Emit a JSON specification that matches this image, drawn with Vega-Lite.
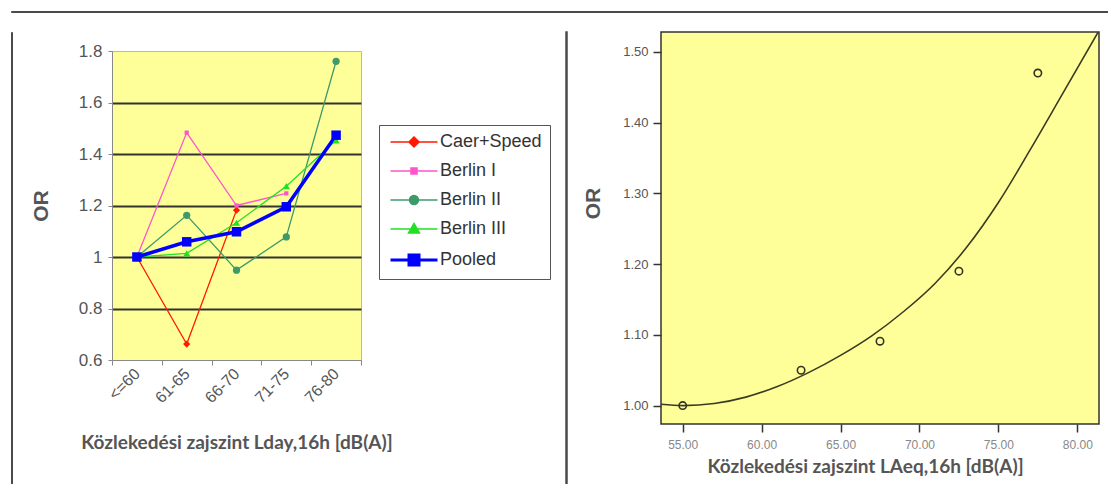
{
  "$schema": "https://vega.github.io/schema/vega-lite/v6.json",
  "background": "white",
  "padding": {"left": 10, "top": 10, "right": 0, "bottom": 0},
  "spacing": 17,
  "datasets": {
    "left": [
      {"band": "<=60", "series": "Caer+Speed", "or": 1.0},
      {"band": "61-65", "series": "Caer+Speed", "or": 0.662},
      {"band": "66-70", "series": "Caer+Speed", "or": 1.182},
      {"band": "<=60", "series": "Berlin I", "or": 1.0},
      {"band": "61-65", "series": "Berlin I", "or": 1.483},
      {"band": "66-70", "series": "Berlin I", "or": 1.2},
      {"band": "71-75", "series": "Berlin I", "or": 1.247},
      {"band": "<=60", "series": "Berlin II", "or": 1.0},
      {"band": "61-65", "series": "Berlin II", "or": 1.162},
      {"band": "66-70", "series": "Berlin II", "or": 0.949},
      {"band": "71-75", "series": "Berlin II", "or": 1.078},
      {"band": "76-80", "series": "Berlin II", "or": 1.76},
      {"band": "<=60", "series": "Berlin III", "or": 1.0},
      {"band": "61-65", "series": "Berlin III", "or": 1.014},
      {"band": "66-70", "series": "Berlin III", "or": 1.133},
      {"band": "71-75", "series": "Berlin III", "or": 1.275},
      {"band": "76-80", "series": "Berlin III", "or": 1.453},
      {"band": "<=60", "series": "Pooled", "or": 1.0},
      {"band": "61-65", "series": "Pooled", "or": 1.059},
      {"band": "66-70", "series": "Pooled", "or": 1.098},
      {"band": "71-75", "series": "Pooled", "or": 1.195},
      {"band": "76-80", "series": "Pooled", "or": 1.473}
    ],
    "pts": [
      {"laeq": 55.0, "or": 1.0},
      {"laeq": 62.5, "or": 1.05},
      {"laeq": 67.5, "or": 1.091},
      {"laeq": 72.5, "or": 1.19},
      {"laeq": 77.5, "or": 1.47}
    ],
    "curve": [
      {"laeq": 53.625, "or": 1.002},
      {"laeq": 55.0, "or": 1.0},
      {"laeq": 57.0, "or": 1.003},
      {"laeq": 59.0, "or": 1.012},
      {"laeq": 61.0, "or": 1.027},
      {"laeq": 63.0, "or": 1.047},
      {"laeq": 65.0, "or": 1.071},
      {"laeq": 67.0, "or": 1.099},
      {"laeq": 69.0, "or": 1.133},
      {"laeq": 71.0, "or": 1.173},
      {"laeq": 73.0, "or": 1.224},
      {"laeq": 75.0, "or": 1.287},
      {"laeq": 77.0, "or": 1.361},
      {"laeq": 79.0, "or": 1.438},
      {"laeq": 81.375, "or": 1.53}
    ]
  },
  "vconcat": [
    {
      "width": 1097,
      "height": 1,
      "view": {"fill": "#4a4a4a", "stroke": "#4a4a4a", "strokeWidth": 1},
      "data": {"values": [{}]},
      "mark": {"type": "rule", "opacity": 0},
      "encoding": {}
    },
    {
      "spacing": 168,
      "hconcat": [
        {
          "spacing": 16,
          "hconcat": [
            {
              "width": 1,
              "height": 455,
              "view": {"fill": "#4a4a4a", "stroke": "#4a4a4a", "strokeWidth": 1},
              "data": {"values": [{}]},
              "mark": {"type": "rule", "opacity": 0},
              "encoding": {}
            },
            {
              "spacing": 8,
              "vconcat": [
                {
                  "width": 1,
                  "height": 1,
                  "view": {"stroke": null},
                  "data": {"values": [{}]},
                  "mark": {"type": "rule", "opacity": 0},
                  "encoding": {}
                },
                {
                  "width": 249,
                  "height": 309,
                  "view": {"fill": "#ffff99", "stroke": "#b8b8b8", "strokeWidth": 1},
                  "data": {"name": "left"},
                  "encoding": {
                    "x": {
                      "field": "band",
                      "type": "ordinal",
                      "sort": ["<=60", "61-65", "66-70", "71-75", "76-80"],
                      "scale": {"type": "band", "paddingInner": 0, "paddingOuter": 0},
                      "axis": {
                        "tickBand": "extent",
                        "labelAngle": -45,
                        "labelAlign": "right",
                        "labelBaseline": "middle",
                        "labelFont": "Liberation Sans",
                        "labelFontSize": 16,
                        "labelColor": "#555555",
                        "labelPadding": 6,
                        "domainColor": "#888888",
                        "tickColor": "#888888",
                        "tickSize": 5,
                        "title": "Közlekedési zajszint  Lday,16h [dB(A)]",
                        "titleFont": "Lato",
                        "titleFontSize": 19,
                        "titleFontWeight": "bold",
                        "titleColor": "#555555",
                        "titlePadding": 28
                      }
                    },
                    "y": {
                      "field": "or",
                      "type": "quantitative",
                      "scale": {"domain": [0.6, 1.8], "nice": false, "zero": false},
                      "axis": {
                        "values": [0.6, 0.8, 1, 1.2, 1.4, 1.6, 1.8],
                        "format": "~g",
                        "grid": true,
                        "gridColor": {"condition": {"test": "datum.value > 0.7 && datum.value < 1.7", "value": "#333333"}, "value": "transparent"},
                        "gridWidth": 2,
                        "domainColor": "#888888",
                        "tickColor": "#888888",
                        "tickSize": 4,
                        "labelFont": "Liberation Sans",
                        "labelFontSize": 17,
                        "labelColor": "#555555",
                        "labelPadding": 6,
                        "title": "OR",
                        "titleFont": "Liberation Sans",
                        "titleFontSize": 21,
                        "titleFontWeight": "bold",
                        "titleColor": "#555555",
                        "titlePadding": 27
                      }
                    },
                    "color": {
                      "field": "series",
                      "type": "nominal",
                      "scale": {
                        "domain": ["Caer+Speed", "Berlin I", "Berlin II", "Berlin III", "Pooled"],
                        "range": ["#ff1a00", "#ff55cc", "#3d9a6b", "#22e022", "#0000ff"]
                      },
                      "legend": {
                        "orient": "none",
                        "legendX": 368,
                        "legendY": 114,
                        "title": null,
                        "fillColor": "white",
                        "strokeColor": "#555555",
                        "padding": 8,
                        "labelFont": "Liberation Sans",
                        "labelFontSize": 18,
                        "labelColor": "#333333",
                        "labelOffset": 17,
                        "symbolOffset": 18,
                        "symbolSize": 100,
                        "rowPadding": 11,
                        "encode": {
                          "symbols": {
                            "update": {
                              "shape": {"signal": "datum.value === 'Caer+Speed' ? 'M-4.7,0H4.7M0,-1L1,0L0,1L-1,0Z' : datum.value === 'Berlin I' ? 'M-4.7,0H4.7M-0.6,-0.6H0.6V0.6H-0.6Z' : datum.value === 'Berlin II' ? 'M-4.7,0H4.7M-0.9,0A0.9,0.9,0,1,0,0.9,0A0.9,0.9,0,1,0,-0.9,0Z' : datum.value === 'Berlin III' ? 'M-4.7,0H4.7M0,-1.1L1.1,0.8L-1.1,0.8Z' : 'M-4.7,0H4.7M-1,-1H1V1H-1Z'"},
                              "fill": {"signal": "datum.value === 'Caer+Speed' ? '#ff1a00' : datum.value === 'Berlin I' ? '#ff55cc' : datum.value === 'Berlin II' ? '#3d9a6b' : datum.value === 'Berlin III' ? '#22e022' : '#0000ff'"},
                              "stroke": {"signal": "datum.value === 'Caer+Speed' ? '#ff1a00' : datum.value === 'Berlin I' ? '#ff55cc' : datum.value === 'Berlin II' ? '#3d9a6b' : datum.value === 'Berlin III' ? '#22e022' : '#0000ff'"},
                              "strokeWidth": {"signal": "datum.value === 'Pooled' ? 3 : 1.5"},
                              "size": {"value": 100},
                              "opacity": {"value": 1}
                            }
                          }
                        }
                      }
                    }
                  },
                  "layer": [
                    {
                      "mark": {"type": "line"},
                      "encoding": {
                        "strokeWidth": {
                          "condition": {"test": "datum.series === 'Pooled'", "value": 3.5},
                          "value": 1.3
                        }
                      }
                    },
                    {
                      "mark": {"type": "point", "filled": true, "opacity": 1},
                      "encoding": {
                        "shape": {
                          "condition": [
                            {"test": "datum.series === 'Caer+Speed'", "value": "diamond"},
                            {"test": "datum.series === 'Berlin II'", "value": "circle"},
                            {"test": "datum.series === 'Berlin III'", "value": "triangle-up"}
                          ],
                          "value": "square"
                        },
                        "size": {
                          "condition": [
                            {"test": "datum.series === 'Pooled'", "value": 90},
                            {"test": "datum.series === 'Berlin I'", "value": 18}
                          ],
                          "value": 52
                        }
                      }
                    }
                  ]
                }
              ]
            }
          ]
        },
        {
          "spacing": 13,
          "hconcat": [
            {
              "width": 1,
              "height": 455,
              "view": {"fill": "#4a4a4a", "stroke": "#4a4a4a", "strokeWidth": 1.5},
              "data": {"values": [{}]},
              "mark": {"type": "rule", "opacity": 0},
              "encoding": {}
            },
            {
              "width": 438,
              "height": 392,
              "view": {"fill": "#ffff99", "stroke": "#333333", "strokeWidth": 1.5},
              "encoding": {
                "x": {
                  "field": "laeq",
                  "type": "quantitative",
                  "scale": {"domain": [53.625, 81.375], "nice": false, "zero": false},
                  "axis": {
                    "values": [55, 60, 65, 70, 75, 80],
                    "format": ".2f",
                    "grid": false,
                    "domain": false,
                    "tickColor": "#333333",
                    "tickSize": 8,
                    "tickWidth": 1.5,
                    "labelFont": "Liberation Sans",
                    "labelFontSize": 12,
                    "labelColor": "#888888",
                    "labelPadding": 7,
                    "title": "Közlekedési zajszint LAeq,16h [dB(A)]",
                    "titleFont": "Lato",
                    "titleFontSize": 19,
                    "titleFontWeight": "bold",
                    "titleColor": "#555555",
                    "titlePadding": 7,
                    "titleX": 204
                  }
                },
                "y": {
                  "field": "or",
                  "type": "quantitative",
                  "scale": {"domain": [0.974, 1.528], "nice": false, "zero": false},
                  "axis": {
                    "values": [1.0, 1.1, 1.2, 1.3, 1.4, 1.5],
                    "format": ".2f",
                    "grid": false,
                    "domain": false,
                    "tickColor": "#333333",
                    "tickSize": 8,
                    "tickWidth": 1.5,
                    "labelFont": "Liberation Sans",
                    "labelFontSize": 13,
                    "labelColor": "#555555",
                    "labelPadding": 5,
                    "title": "OR",
                    "titleFont": "Liberation Sans",
                    "titleFontSize": 21,
                    "titleFontWeight": "bold",
                    "titleColor": "#555555",
                    "titlePadding": 19,
                    "titleY": 171
                  }
                }
              },
              "layer": [
                {
                  "data": {"name": "curve"},
                  "mark": {"type": "line", "interpolate": "monotone", "color": "#3b3b22", "strokeWidth": 1.6, "clip": true}
                },
                {
                  "data": {"name": "pts"},
                  "mark": {"type": "point", "shape": "circle", "filled": false, "color": "#333322", "size": 55, "strokeWidth": 1.6, "opacity": 1}
                }
              ]
            }
          ]
        }
      ]
    }
  ]
}
